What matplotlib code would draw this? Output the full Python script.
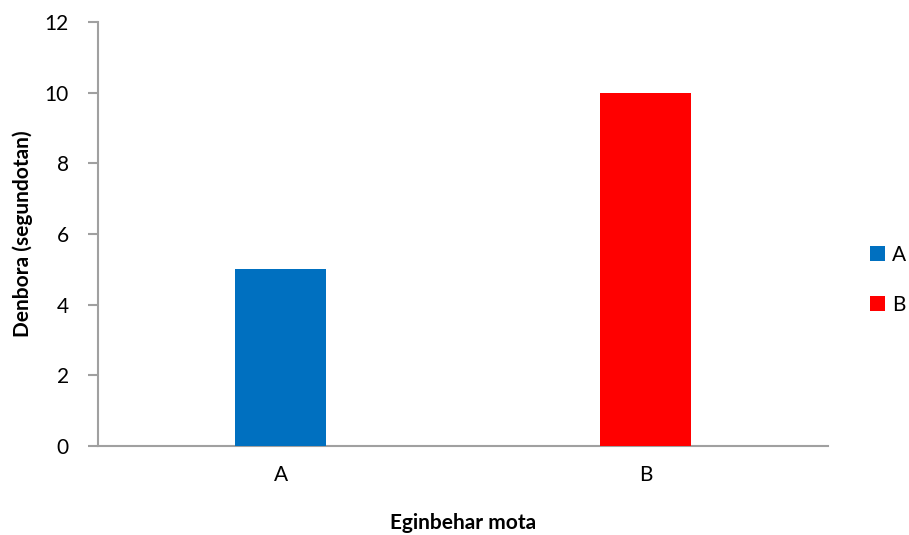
import matplotlib
matplotlib.use("Agg")
import matplotlib.pyplot as plt
from matplotlib.patches import Patch

categories = ["A", "B"]
values = [5, 10]
colors = ["#0070C0", "#FF0000"]
yticks = [0, 2, 4, 6, 8, 10, 12]

plt.rcParams['font.family'] = ['Lato', 'DejaVu Sans']

W, H = 909, 535
fig = plt.figure(figsize=(W/100, H/100), dpi=100)
ax = fig.add_axes([98/W, (H-446)/H, (828-98)/W, (446-22)/H])

x = list(range(len(categories)))
ax.bar(x, values, width=0.25, color=colors, zorder=3)
ax.set_xlim(-0.5, len(categories)-0.5)
ax.set_ylim(0, 12)
ax.set_yticks(yticks)
ax.set_yticklabels([str(t) for t in yticks], fontsize=15)
ax.set_xticks(x)
ax.set_xticklabels(categories, fontsize=15)
ax.tick_params(axis='x', length=0, pad=14)
ax.tick_params(axis='y', length=7, color='#A0A0A0', width=1.5, pad=14)

for s in ['top', 'right']:
    ax.spines[s].set_visible(False)
for s in ['left', 'bottom']:
    ax.spines[s].set_color('#A0A0A0')
    ax.spines[s].set_linewidth(1.5)

ax.set_xlabel("Eginbehar mota", fontsize=15, fontweight='bold', labelpad=20)
ax.set_ylabel("Denbora (segundotan)", fontsize=15, fontweight='bold', labelpad=8)

handles = [Patch(facecolor=c, label=l) for c, l in zip(colors, categories)]
fig.legend(handles=handles, loc='center left', bbox_to_anchor=(851/W, 1 - 280/H),
           frameon=False, fontsize=15, handlelength=0.75, handleheight=0.75,
           handletextpad=0.3, labelspacing=1.45)

fig.savefig("out.png", dpi=100)
